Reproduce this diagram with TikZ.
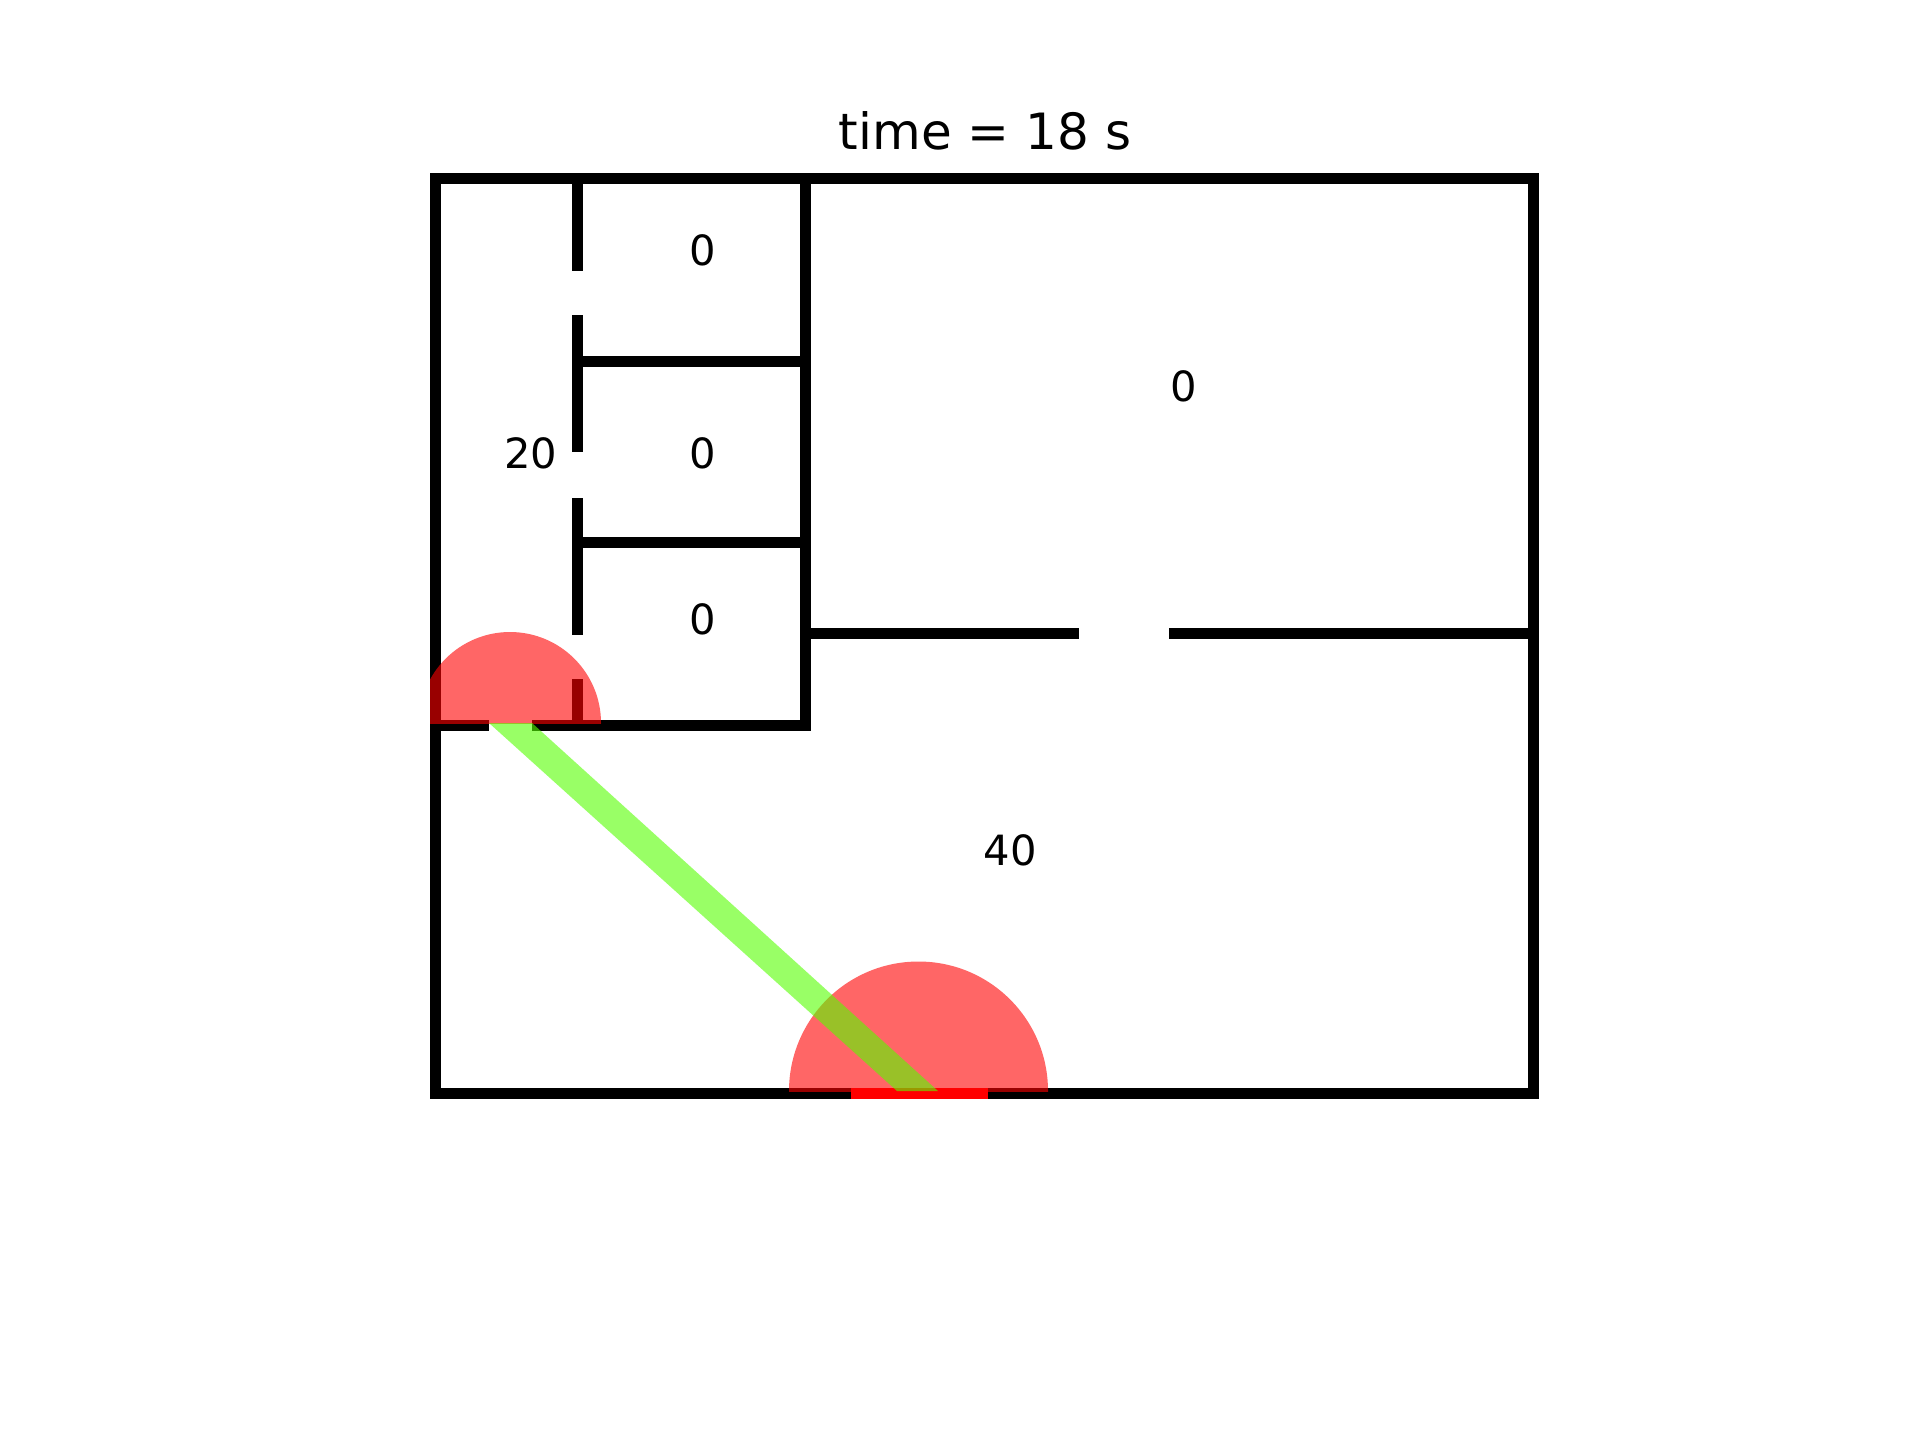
\documentclass[tikz,border=0pt]{standalone}
\usepackage{fontspec}
\setmainfont{DejaVu Sans}
\tikzset{
  wall/.style={draw=black,line width=5.5pt,line cap=butt,line join=miter},
  door/.style={draw=red,line width=5.5pt,line cap=butt},
  firezone/.style={fill=red,fill opacity=0.6},
  smokeband/.style={fill={rgb,255:red,85;green,255;blue,0},fill opacity=0.6},
  count/.style={inner sep=0pt,anchor=base,text=black,font=\fontsize{20.83pt}{25pt}\selectfont},
  heading/.style={inner sep=0pt,anchor=base,text=black,font=\fontsize{25pt}{30pt}\selectfont}
}
\begin{document}
\begin{tikzpicture}[x=0.5pt,y=-0.5pt]
\useasboundingbox (0,0) rectangle (1920,1440);
\fill[white] (0,0) rectangle (1920,1440);
% outer walls
\draw[wall] (435.5,725.5) -- (435.5,178.5) -- (1533.5,178.5) -- (1533.5,1093.5) -- (435.5,1093.5) -- cycle;
% inner walls
\draw[wall] (805.5,173) -- (805.5,731);
\draw[wall] (430,725.5) -- (489,725.5);
\draw[wall] (532,725.5) -- (811,725.5);
\draw[wall] (577.5,178) -- (577.5,271);
\draw[wall] (577.5,315) -- (577.5,452);
\draw[wall] (577.5,498) -- (577.5,635);
\draw[wall] (577.5,679) -- (577.5,725);
\draw[wall] (577.5,361.5) -- (805.5,361.5);
\draw[wall] (577.5,542.5) -- (805.5,542.5);
\draw[wall] (805.5,633.5) -- (1079,633.5);
\draw[wall] (1169,633.5) -- (1533.5,633.5);
% exit door
\draw[door] (851,1093.5) -- (988,1093.5);
% fire zones
\begin{scope}
\clip (430,500) rectangle (700,723);
\fill[firezone] (510,723) circle [radius=91];
\end{scope}
\begin{scope}
\clip (700,900) rectangle (1100,1091);
\fill[firezone] (918.5,1091) circle [radius=129.5];
\end{scope}
% band
\fill[smokeband] (489,723) -- (532,723) -- (938,1091) -- (897,1091) -- cycle;
% labels
\node[heading] (title) at (985,149) {time = 18 s};
\node[count] (roomA) at (702.5,265.5) {0};
\node[count] (roomB) at (702.5,468.5) {0};
\node[count] (roomC) at (702.5,634) {0};
\node[count] (roomD) at (530.5,468.5) {20};
\node[count] (roomE) at (1184,401.5) {0};
\node[count] (roomF) at (1010,865.5) {40};
\end{tikzpicture}
\end{document}
